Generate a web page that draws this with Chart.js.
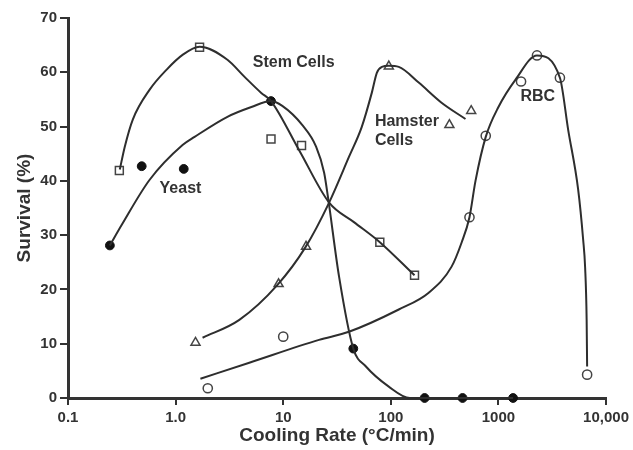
<!DOCTYPE html>
<html>
<head>
<meta charset="utf-8">
<script src="https://cdn.jsdelivr.net/npm/chart.js@4/dist/chart.umd.min.js"></script>
<style>
  html, body { margin: 0; padding: 0; background: #ffffff; }
  #wrap { width: 633px; height: 450px; position: relative; }
</style>
</head>
<body>
<div id="wrap"><canvas id="c" width="633" height="450"></canvas></div>
<script>
// ---- measured points ----
const yeastX = [0.245, 0.484, 1.19, 7.7, 44.8, 206, 464, 1368];
const yeastY = [28.1, 42.7, 42.2, 54.7, 9.1, 0, 0, 0];
const stemX = [0.30, 1.67, 7.7, 14.8, 79, 166];
const stemY = [41.9, 64.6, 47.7, 46.5, 28.7, 22.6];
const hamsterX = [1.53, 9.06, 16.3, 95.8, 350, 558];
const hamsterY = [10.2, 21.0, 27.9, 61.1, 50.3, 52.9];
const rbcX = [1.99, 10, 538, 762, 1622, 2281, 3725, 6668];
const rbcY = [1.8, 11.3, 33.3, 48.3, 58.3, 63.1, 59.0, 4.3];

// ---- fitted curves ----
const yeastCurveX = [0.245, 0.316, 0.574, 1.16, 1.50, 3.03, 5.06, 7.7, 9.8, 15.0, 20.2, 24.0, 26.1, 33.0, 44.8, 58.7, 95.7, 150, 206, 464, 1368];
const yeastCurveY = [28.1, 31.9, 40.2, 46.6, 48.1, 51.8, 53.6, 54.7, 53.8, 50.3, 46.3, 41.5, 36.9, 22.4, 9.1, 5.8, 2.1, 0, 0, 0, 0];
const stemCurveX = [0.303, 0.337, 0.400, 0.574, 0.826, 1.16, 1.67, 3.03, 4.35, 6.25, 7.7, 14.1, 26.7, 45.4, 79, 166];
const stemCurveY = [42.1, 46.3, 51.3, 56.8, 60.5, 63.2, 64.7, 62.3, 59.2, 56.2, 54.7, 45.6, 36.0, 32.4, 28.7, 22.6];
const hamsterCurveX = [1.78, 3.91, 8.8, 16.0, 26.7, 40.8, 53.8, 66.7, 74.1, 82.6, 95.8, 118.5, 181.5, 296, 494];
const hamsterCurveY = [11.1, 14.4, 20.8, 27.7, 36.0, 44.4, 50.0, 56.3, 59.9, 61.0, 61.2, 61.0, 58.1, 54.4, 51.4];
const rbcCurveX = [1.70, 4.84, 21.5, 40.8, 118.5, 225, 367, 454, 538, 612, 762, 1000, 1436, 2281, 3725, 4446, 5505, 6124, 6391, 6600, 6668];
const rbcCurveY = [3.55, 6.5, 10.7, 12.2, 16.3, 19.4, 24.2, 28.6, 33.3, 40.0, 48.1, 53.6, 58.6, 63.1, 59.0, 49.4, 38.4, 29.2, 24.0, 14.4, 5.8];

// ---- axes ----
const xTickValues = [0.1, 1, 10, 100, 1000, 10000];
const xTickLabels = ["0.1", "1.0", "10", "100", "1000", "10,000"];
const yTickValues = [0, 10, 20, 30, 40, 50, 60, 70];

// ---- text labels (data coordinates) ----
const labelTexts = ["Stem Cells", "Yeast", "Hamster", "Cells", "RBC"];
const labelX = [12.5, 1.11, 71.1, 71.1, 2323];
const labelY = [61.7, 38.5, 50.9, 47.4, 55.5];
const labelAlign = ["center", "center", "left", "left", "center"];

const toPts = (xs, ys) => xs.map((x, i) => ({ x: x, y: ys[i] }));
const INK = '#2e2e2e';

const curve = (xs, ys) => ({
  data: toPts(xs, ys), showLine: true, pointRadius: 0, pointHoverRadius: 0,
  borderColor: INK, borderWidth: 2, cubicInterpolationMode: 'monotone', fill: false, clip: false
});

const labelPlugin = {
  id: 'labels',
  afterDatasetsDraw(chart) {
    const { ctx, scales } = chart;
    ctx.save();
    ctx.fillStyle = '#333333';
    ctx.font = 'bold 16px "Liberation Sans", Arial, sans-serif';
    ctx.textBaseline = 'middle';
    labelTexts.forEach((t, i) => {
      ctx.textAlign = labelAlign[i];
      ctx.fillText(t, scales.x.getPixelForValue(labelX[i]), scales.y.getPixelForValue(labelY[i]));
    });
    ctx.restore();
  }
};

new Chart(document.getElementById('c'), {
  type: 'scatter',
  data: {
    datasets: [
      curve(yeastCurveX, yeastCurveY),
      curve(stemCurveX, stemCurveY),
      curve(hamsterCurveX, hamsterCurveY),
      curve(rbcCurveX, rbcCurveY),
      { data: toPts(stemX, stemY), pointStyle: 'rect', pointRadius: 5.6, backgroundColor: '#ffffff', borderColor: '#444444', borderWidth: 1.5, clip: false },
      { data: toPts(hamsterX, hamsterY), pointStyle: 'triangle', pointRadius: 5.2, backgroundColor: '#ffffff', borderColor: '#444444', borderWidth: 1.5, clip: false },
      { data: toPts(rbcX, rbcY), pointStyle: 'circle', pointRadius: 4.6, backgroundColor: '#ffffff', borderColor: '#444444', borderWidth: 1.5, clip: false },
      { data: toPts(yeastX, yeastY), pointStyle: 'circle', pointRadius: 4.4, backgroundColor: '#111111', borderColor: '#111111', borderWidth: 1, clip: false }
    ]
  },
  options: {
    responsive: false,
    animation: false,
    devicePixelRatio: 1,
    layout: { padding: { top: 18, right: 25, left: 0, bottom: 0 } },
    plugins: { legend: { display: false }, tooltip: { enabled: false } },
    scales: {
      x: {
        type: 'logarithmic',
        min: 0.1, max: 10000,
        afterBuildTicks: (s) => { s.ticks = xTickValues.map(v => ({ value: v })); },
        afterFit: (s) => { s.height = 52; },
        ticks: {
          autoSkip: false, maxRotation: 0, padding: 4,
          color: '#333333',
          font: { family: '"Liberation Sans", Arial, sans-serif', size: 15, weight: 'bold' },
          callback: (v) => { const i = xTickValues.indexOf(v); return i >= 0 ? xTickLabels[i] : ''; }
        },
        grid: { display: true, drawOnChartArea: false, drawTicks: true, tickLength: 7, color: '#333333', lineWidth: 2 },
        border: { display: true, color: '#333333', width: 3 },
        title: {
          display: true, text: 'Cooling Rate (°C/min)', color: '#333333',
          font: { family: '"Liberation Sans", Arial, sans-serif', size: 19, weight: 'bold' },
          padding: { top: 0, bottom: 3 }
        }
      },
      y: {
        type: 'linear',
        min: 0, max: 70,
        afterBuildTicks: (s) => { s.ticks = yTickValues.map(v => ({ value: v })); },
        afterFit: (s) => { s.width = 68; },
        ticks: {
          padding: 3, color: '#333333',
          font: { family: '"Liberation Sans", Arial, sans-serif', size: 15, weight: 'bold' }
        },
        grid: { display: true, drawOnChartArea: false, drawTicks: true, tickLength: 8, color: '#333333', lineWidth: 2 },
        border: { display: true, color: '#333333', width: 3 },
        title: {
          display: true, text: 'Survival (%)', color: '#333333',
          font: { family: '"Liberation Sans", Arial, sans-serif', size: 19, weight: 'bold' },
          padding: { top: 13, bottom: 0 }
        }
      }
    }
  },
  plugins: [labelPlugin]
});
</script>
</body>
</html>
